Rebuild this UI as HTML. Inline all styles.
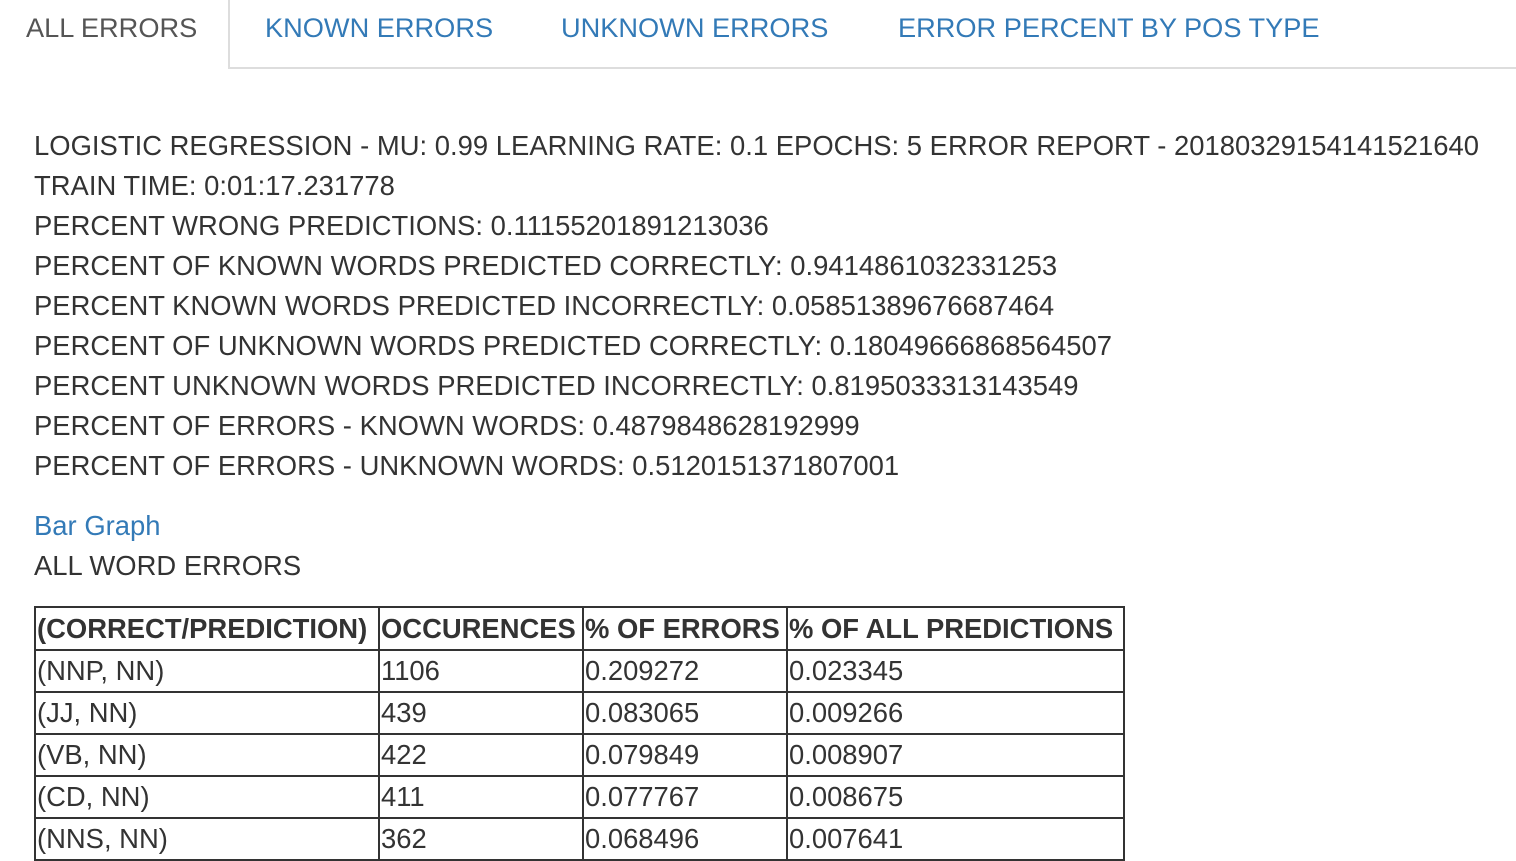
<!DOCTYPE html>
<html><head><meta charset="utf-8">
<style>
body{margin:0;width:1516px;height:860px;overflow:hidden;background:#fff;font-family:"Liberation Sans",Arial,sans-serif;color:#333;position:relative}
.tab{position:absolute;top:0;height:68px;line-height:56px;font-size:27.2px;color:#337ab7}
.l{position:absolute;left:34px;font-size:27.4px;line-height:40px;white-space:nowrap;letter-spacing:0.02px}
table{position:absolute;left:34px;top:606px;border-collapse:collapse;font-size:27.4px;table-layout:fixed}
td,th{border:2px solid #333;padding:0 0 0 1px;text-align:left;white-space:nowrap;overflow:hidden;height:40px;line-height:40px}
th{font-weight:bold;height:41px;letter-spacing:0}
</style></head><body>
<div style="position:absolute;left:229px;top:67px;width:1287px;height:2px;background:#ddd"></div>
<div style="position:absolute;left:228px;top:0;width:2px;height:69px;background:#ddd"></div>
<div class="tab" style="left:26px;color:#555">ALL ERRORS</div>
<div class="tab" style="left:265px">KNOWN ERRORS</div>
<div class="tab" style="left:561px">UNKNOWN ERRORS</div>
<div class="tab" style="left:898px">ERROR PERCENT BY POS TYPE</div>

<div class="l" style="top:126px">LOGISTIC REGRESSION - MU: 0.99 LEARNING RATE: 0.1 EPOCHS: 5 ERROR REPORT - 20180329154141521640</div>
<div class="l" style="top:166px">TRAIN TIME: 0:01:17.231778</div>
<div class="l" style="top:206px">PERCENT WRONG PREDICTIONS: 0.11155201891213036</div>
<div class="l" style="top:246px">PERCENT OF KNOWN WORDS PREDICTED CORRECTLY: 0.9414861032331253</div>
<div class="l" style="top:286px">PERCENT KNOWN WORDS PREDICTED INCORRECTLY: 0.05851389676687464</div>
<div class="l" style="top:326px">PERCENT OF UNKNOWN WORDS PREDICTED CORRECTLY: 0.18049666868564507</div>
<div class="l" style="top:366px">PERCENT UNKNOWN WORDS PREDICTED INCORRECTLY: 0.8195033313143549</div>
<div class="l" style="top:406px">PERCENT OF ERRORS - KNOWN WORDS: 0.4879848628192999</div>
<div class="l" style="top:446px">PERCENT OF ERRORS - UNKNOWN WORDS: 0.5120151371807001</div>
<div class="l" style="top:506px;color:#337ab7">Bar Graph</div>
<div class="l" style="top:546px">ALL WORD ERRORS</div>

<table>
<colgroup><col style="width:344px"><col style="width:204px"><col style="width:204px"><col style="width:337px"></colgroup>
<tr><th>(CORRECT/PREDICTION)</th><th>OCCURENCES</th><th>% OF ERRORS</th><th>% OF ALL PREDICTIONS</th></tr>
<tr><td>(NNP, NN)</td><td>1106</td><td>0.209272</td><td>0.023345</td></tr>
<tr><td>(JJ, NN)</td><td>439</td><td>0.083065</td><td>0.009266</td></tr>
<tr><td>(VB, NN)</td><td>422</td><td>0.079849</td><td>0.008907</td></tr>
<tr><td>(CD, NN)</td><td>411</td><td>0.077767</td><td>0.008675</td></tr>
<tr><td>(NNS, NN)</td><td>362</td><td>0.068496</td><td>0.007641</td></tr>
</table>
</body></html>
